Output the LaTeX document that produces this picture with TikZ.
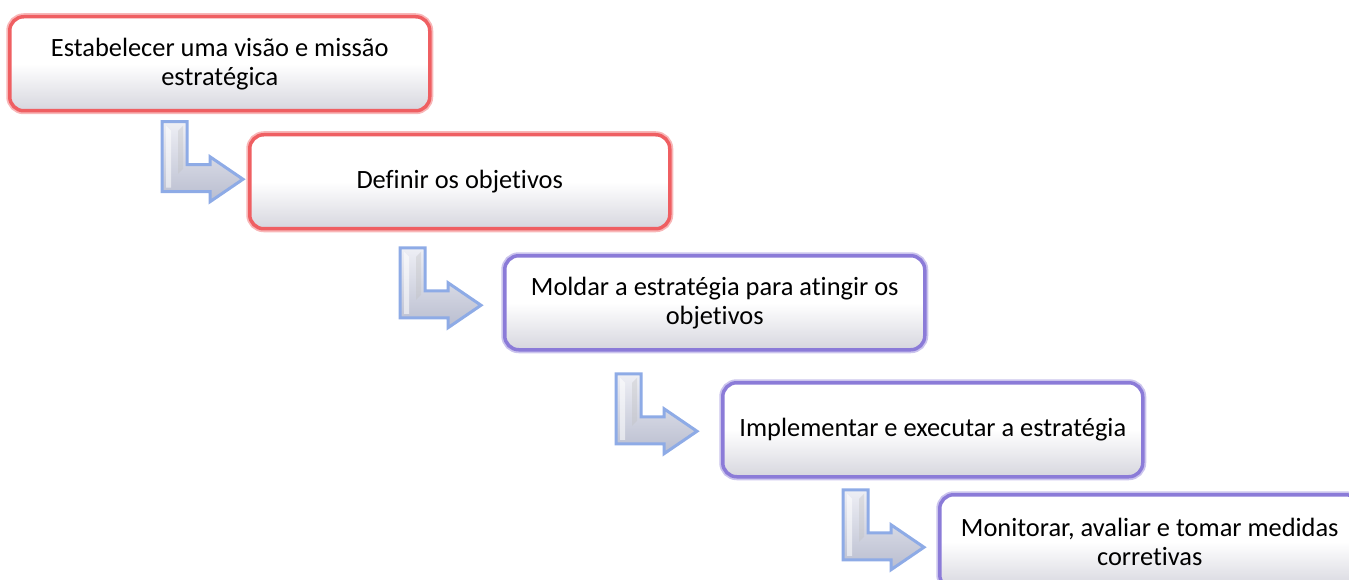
\documentclass[tikz,border=0pt]{standalone}
\usepackage{fontspec}
\setmainfont{Carlito}[Ligatures={NoCommon}]
\usetikzlibrary{calc}
\definecolor{boxred}{HTML}{EF5F62}
\definecolor{boxpurple}{HTML}{8B7BD8}
\definecolor{arrblue}{HTML}{8EABE6}
\definecolor{arrfillA}{HTML}{EEEFF5}
\definecolor{arrfillB}{HTML}{B9BDCF}
\definecolor{boxshade}{HTML}{D6D6DE}
\tikzset{
  stepbox/.style={rounded corners=14pt, line width=3.5pt, minimum width=420pt,
    minimum height=94pt, anchor=north west, align=center, inner sep=0pt,
    top color=white, bottom color=boxshade, middle color=white,
    font=\fontsize{26.4}{29}\selectfont},
  redbox/.style={stepbox, draw=boxred, preaction={draw=boxred!45, line width=7pt}},
  purplebox/.style={stepbox, draw=boxpurple, preaction={draw=boxpurple!45, line width=7pt}},
  larrow/.pic={
    \path[draw=arrblue, line width=3pt, line join=miter, top color=arrfillA, bottom color=arrfillB]
      (0,0) -- (25,0) -- (25,43) -- (48,43) -- (48,35) -- (81,57.5) -- (48,80) -- (48,70) -- (0,70) -- cycle;
    \fill[white, opacity=0.55] (4,4) -- (9,9) -- (9,66) -- (4,66) -- cycle;
    \fill[black!25, opacity=0.35] (21,4) -- (21,47) -- (16,52) -- (16,9) -- cycle;
  }
}
\begin{document}
\begin{tikzpicture}[x=1pt, y=-1pt]
\useasboundingbox (0,0) rectangle (1349,580);
\clip (0,0) rectangle (1349,580);
\node[redbox] (b1) at (8,15) {Estabelecer uma visão e missão\\estratégica};
\node[redbox] (b2) at (248,133) {Definir os objetivos};
\node[purplebox] (b3) at (503,254) {Moldar a estratégia para atingir os\\objetivos};
\node[purplebox] (b4) at (721,381) {Implementar e executar a estratégia};
\node[purplebox] (b5) at (938,493) {Monitorar, avaliar e tomar medidas\\corretivas};
\pic at ($(b2.west)+(-86,-60)$) {larrow};
\pic at ($(b3.west)+(-103,-55)$) {larrow};
\pic at ($(b4.west)+(-105,-56)$) {larrow};
\pic at ($(b5.west)+(-95,-52)$) {larrow};
\end{tikzpicture}
\end{document}
